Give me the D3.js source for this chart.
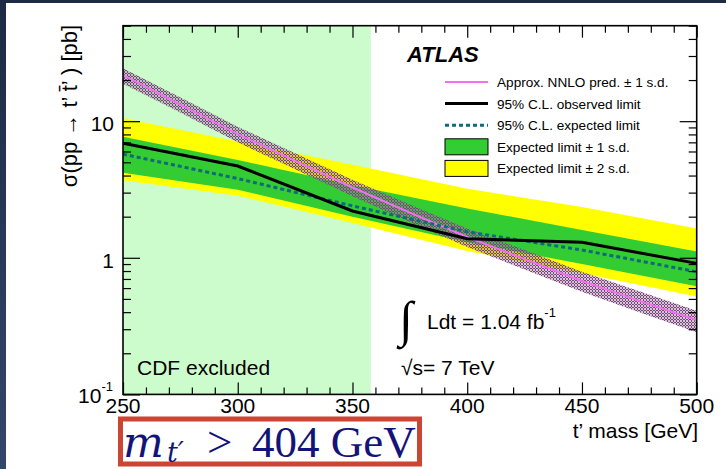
<!DOCTYPE html>
<html>
<head>
<meta charset="utf-8">
<script src="https://cdn.jsdelivr.net/npm/d3@7"></script>
<style>
body { margin: 0; background: #fff; }
svg { display: block; font-family: "Liberation Sans", Arial, Helvetica, sans-serif; }
</style>
</head>
<body>
<div id="chart"></div>
<script>
// limit points (GeV, pb)
const limitMass = [250, 300, 350, 400, 450, 500]
const observed  = [6.9, 4.7, 2.2, 1.38, 1.30, 0.91]
const expected  = [5.74, 3.8, 2.4, 1.55, 1.14, 0.79]
const exp1Up    = [7.7, 5.2, 3.4, 2.3, 1.6, 1.11]
const exp1Down  = [4.2, 3.15, 2.0, 1.3, 0.9, 0.62]
const exp2Up    = [10.5, 7.1, 4.8, 3.2, 2.35, 1.64]
const exp2Down  = [3.7, 2.85, 1.8, 1.12, 0.77, 0.52]

// approx NNLO prediction
const theoryMass = [250, 275, 300, 325, 350, 375, 400, 425, 450, 475, 500]
const theory     = [21.7, 13.2, 8.04, 5.13, 3.27, 2.14, 1.42, 0.977, 0.676, 0.484, 0.35]
const theoryUp   = [24.4, 14.9, 9.1, 5.83, 3.73, 2.46, 1.64, 1.14, 0.79, 0.57, 0.41]
const theoryDown = [18.8, 11.6, 7.0, 4.45, 2.82, 1.83, 1.2, 0.82, 0.565, 0.4, 0.285]

const cdfLimit = 358
const xTicks = [250, 300, 350, 400, 450, 500]
const yTicks = [0.1, 1, 10]
const legendLabels = [
	"Approx. NNLO pred. \u00b1 1 s.d.",
	"95% C.L. observed limit",
	"95% C.L. expected limit",
	"Expected limit \u00b1 1 s.d.",
	"Expected limit \u00b1 2 s.d."
]

const width = 726, height = 469
const plotL = 123, plotR = 696.7, plotT = 25.7, plotB = 394.4

const x = d3.scaleLinear().domain([250, 500]).range([plotL, plotR])
const y = d3.scaleLog().domain([0.1, 50]).range([plotB, plotT])

const svg = d3.select('#chart').append('svg')
.attr('width', width)
.attr('height', height)

const defs = svg.append('defs')

let grad = defs.append('linearGradient').attr('id', 'edge').attr('x1', 0).attr('y1', 0).attr('x2', 0).attr('y2', 1)
grad.append('stop').attr('offset', '0').attr('stop-color', '#1d2a46')
grad.append('stop').attr('offset', '1').attr('stop-color', '#34466a')

// cross-hatch for the prediction band
let hatch = defs.append('pattern').attr('id', 'hatch')
.attr('width', 3).attr('height', 3)
.attr('patternUnits', 'userSpaceOnUse')
hatch.append('rect').attr('width', 3).attr('height', 3).attr('fill', '#9a6e9c').attr('fill-opacity', 0.4)
;[[1, 0], [0, 1], [2, 1], [1, 2]].forEach(p => {
	hatch.append('rect').attr('x', p[0]).attr('y', p[1]).attr('width', 1).attr('height', 1).attr('fill', '#7a4a7c')
})

defs.append('clipPath').attr('id', 'plot')
.append('rect')
.attr('x', plotL).attr('y', plotT)
.attr('width', plotR - plotL).attr('height', plotB - plotT)

// slide background
svg.append('rect').attr('width', width).attr('height', height).attr('fill', '#fff')
svg.append('rect').attr('width', 6).attr('height', height).attr('fill', 'url(#edge)')
svg.append('rect').attr('width', width).attr('height', 3).attr('fill', '#1d2a46')

const plot = svg.append('g').attr('clip-path', 'url(#plot)')

// CDF excluded region
plot.append('rect')
.attr('x', x(250))
.attr('y', plotT)
.attr('width', x(cdfLimit) - x(250))
.attr('height', plotB - plotT)
.attr('fill', '#ccfccc')

const band = (lo, hi) => d3.area()
.x(d => x(d))
.y0((d, i) => y(lo[i]))
.y1((d, i) => y(hi[i]))

const line = (vals) => d3.line()
.x(d => x(d))
.y((d, i) => y(vals[i]))

plot.append('path')
.attr('d', band(exp2Down, exp2Up)(limitMass))
.attr('fill', '#ffff00')

plot.append('path')
.attr('d', band(exp1Down, exp1Up)(limitMass))
.attr('fill', '#33cc33')

plot.append('path')
.attr('d', band(theoryDown, theoryUp)(theoryMass))
.attr('fill', 'url(#hatch)')

plot.append('path')
.attr('d', line(theory)(theoryMass))
.attr('fill', 'none')
.attr('stroke', '#f070f0')
.attr('stroke-width', 2)

plot.append('path')
.attr('d', line(expected)(limitMass))
.attr('fill', 'none')
.attr('stroke', '#106a78')
.attr('stroke-width', 3)
.attr('stroke-dasharray', '4,3')

plot.append('path')
.attr('d', line(observed)(limitMass))
.attr('fill', 'none')
.attr('stroke', '#000')
.attr('stroke-width', 3)

// axes, ticks pointing inwards
const xMinor = d3.range(260, 500, 10).filter(d => d % 50 != 0)
const yMinor = y.ticks().filter(d => yTicks.indexOf(d) < 0)

const axes = svg.append('g').attr('class', 'axes')

const addAxis = (axis, tx, ty) => {
	let g = axes.append('g').attr('transform', 'translate(' + tx + ',' + ty + ')').call(axis)
	g.select('.domain').remove()
	g.selectAll('line').attr('stroke', '#000').attr('stroke-width', 1.2)
	g.selectAll('text').remove()
}

addAxis(d3.axisBottom(x).tickValues(xTicks).tickSize(-12), 0, plotB)
addAxis(d3.axisBottom(x).tickValues(xMinor).tickSize(-7), 0, plotB)
addAxis(d3.axisTop(x).tickValues(xTicks).tickSize(-12), 0, plotT)
addAxis(d3.axisTop(x).tickValues(xMinor).tickSize(-7), 0, plotT)
addAxis(d3.axisLeft(y).tickValues(yTicks).tickSize(-17), plotL, 0)
addAxis(d3.axisLeft(y).tickValues(yMinor).tickSize(-8), plotL, 0)
addAxis(d3.axisRight(y).tickValues(yTicks).tickSize(-17), plotR, 0)
addAxis(d3.axisRight(y).tickValues(yMinor).tickSize(-8), plotR, 0)

axes.append('rect')
.attr('x', plotL).attr('y', plotT)
.attr('width', plotR - plotL).attr('height', plotB - plotT)
.attr('fill', 'none')
.attr('stroke', '#000')
.attr('stroke-width', 1.6)

// tick labels
const labels = svg.append('g').attr('font-size', 21).attr('fill', '#000')

labels.selectAll('.xlab')
.data(xTicks)
.enter()
.append('text')
.attr('class', 'xlab')
.attr('x', d => x(d))
.attr('y', 413)
.attr('text-anchor', 'middle')
.text(d => d)

let ylab = labels.selectAll('.ylab')
.data(yTicks)
.enter()
.append('text')
.attr('class', 'ylab')
.attr('x', 114)
.attr('y', d => y(d) + 10)
.attr('text-anchor', 'end')

ylab.filter(d => d >= 1).text(d => d)
ylab.filter(d => d < 1).each(function() {
	let t = d3.select(this)
	t.attr('x', 113).attr('y', 403)
	t.append('tspan').text('10')
	t.append('tspan').attr('font-size', 13).attr('dy', -12).text('-1')
})

// axis titles
labels.append('text')
.attr('x', 698)
.attr('y', 438)
.attr('text-anchor', 'end')
.text('t\u2019 mass [GeV]')

labels.append('text')
.attr('transform', 'translate(77,106) rotate(-90)')
.attr('text-anchor', 'middle')
.attr('font-size', 22)
.text('\u03c3(pp \u2192 t\u2019 t\u0304\u2019 ) [pb]')

// annotations
svg.append('text')
.attr('x', 407)
.attr('y', 62)
.attr('font-size', 22)
.attr('font-weight', 'bold')
.attr('font-style', 'italic')
.text('ATLAS')

labels.append('text')
.attr('x', 137)
.attr('y', 375)
.text('CDF excluded')

svg.append('text')
.attr('x', 399)
.attr('y', 336)
.attr('font-family', '"Liberation Serif", "Times New Roman", serif')
.attr('font-size', 50)
.text('\u222b')

let lumi = labels.append('text')
.attr('x', 427)
.attr('y', 329)
lumi.append('tspan').text('Ldt = 1.04 fb')
lumi.append('tspan').attr('font-size', 13).attr('dy', -12).text('-1')

labels.append('text')
.attr('x', 401)
.attr('y', 375)
.text('\u221as= 7 TeV')

// legend
const legend = svg.append('g').attr('font-size', 13.6)
const rowY = i => 82 + i * 21.6

legend.selectAll('text')
.data(legendLabels)
.enter()
.append('text')
.attr('x', 497)
.attr('y', (d, i) => rowY(i) + 5)
.text(d => d)

legend.append('line')
.attr('x1', 445).attr('x2', 488)
.attr('y1', rowY(0)).attr('y2', rowY(0))
.attr('stroke', '#f070f0').attr('stroke-width', 2)

legend.append('line')
.attr('x1', 445).attr('x2', 488)
.attr('y1', rowY(1)).attr('y2', rowY(1))
.attr('stroke', '#000').attr('stroke-width', 3)

legend.append('line')
.attr('x1', 445).attr('x2', 488)
.attr('y1', rowY(2)).attr('y2', rowY(2))
.attr('stroke', '#106a78').attr('stroke-width', 3)
.attr('stroke-dasharray', '4,3')

legend.append('rect')
.attr('x', 445).attr('y', rowY(3) - 8)
.attr('width', 43).attr('height', 16)
.attr('fill', '#33cc33').attr('stroke', '#000')

legend.append('rect')
.attr('x', 445).attr('y', rowY(4) - 8)
.attr('width', 43).attr('height', 16)
.attr('fill', '#ffff00').attr('stroke', '#000')

// result box
svg.append('rect')
.attr('x', 120.5).attr('y', 419)
.attr('width', 299).attr('height', 45)
.attr('fill', '#fff')
.attr('stroke', '#cc4434')
.attr('stroke-width', 5)

let res = svg.append('text')
.attr('y', 456.5)
.attr('fill', '#141478')
.attr('font-family', '"Liberation Serif", "Times New Roman", serif')
.attr('font-size', 45)

res.append('tspan').attr('x', 123).attr('font-family', '"DejaVu Serif", serif').attr('font-size', 43).attr('font-style', 'italic').text('m')
res.append('tspan').attr('x', 167).attr('dy', 5).attr('font-family', '"DejaVu Serif", serif').attr('font-size', 27).attr('font-style', 'italic').text('t\u2032')
res.append('tspan').attr('x', 207).attr('dy', -5).text('>')
res.append('tspan').attr('x', 252).text('404 GeV')
</script>
</body>
</html>
